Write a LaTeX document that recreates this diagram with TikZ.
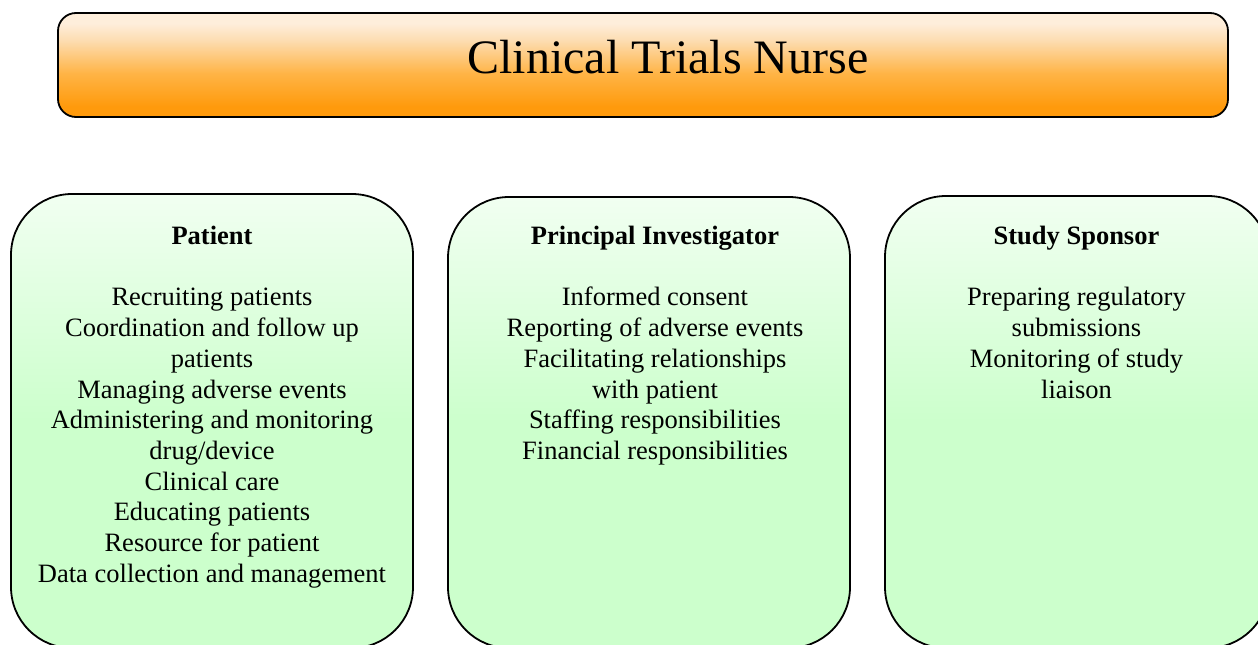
\documentclass[tikz,border=0pt]{standalone}
\usepackage{fontspec}
\setmainfont{Liberation Serif}

\definecolor{orangeLow}{HTML}{FF9A0C}
\definecolor{orangeMid}{HTML}{FFB446}
\definecolor{orangeHigh}{HTML}{FDDDB2}
\definecolor{orangeTop}{HTML}{FEEEDB}
\definecolor{greenLow}{HTML}{CCFFCC}
\definecolor{greenTop}{HTML}{F1FFF1}

% vertical fades (the 25bp..75bp band covers the filled path)
\pgfdeclareverticalshading{titlefade}{100bp}{%
  color(0bp)=(orangeLow); color(30bp)=(orangeLow); color(46bp)=(orangeMid);
  color(62bp)=(orangeHigh); color(70bp)=(orangeTop); color(100bp)=(orangeTop)}
\pgfdeclareverticalshading{greenfade}{100bp}{%
  color(0bp)=(greenLow); color(50bp)=(greenLow); color(75bp)=(greenTop);
  color(100bp)=(greenTop)}

\tikzset{
  titlebox/.style={draw=black, line width=1.8pt, rounded corners=18pt, shading=titlefade},
  rolebox/.style={draw=black, line width=1.8pt, rounded corners=61pt, shading=greenfade},
  roletext/.style={anchor=north, inner sep=0pt, align=center,
    font=\fontsize{26.5}{30.7}\selectfont},
  titletext/.style={anchor=base, inner sep=0pt, font=\fontsize{48}{56}\selectfont}
}

\begin{document}
\begin{tikzpicture}[x=1pt, y=-1pt]
  \useasboundingbox (0,0) rectangle (1258,645);
  \clip (0,0) rectangle (1258,645);
  \fill[white] (0,0) rectangle (1258,645);

  % header bar
  \path[titlebox] (58,13) rectangle (1228,117);
  \node[titletext] (title) at (668,73.3) {Clinical Trials Nurse};

  % three role panels
  \path[rolebox] (11,194) rectangle (413,648);
  \path[rolebox] (448,197) rectangle (850,648);
  \path[rolebox] (885,196) rectangle (1269,648);

  \node[roletext] (patient) at (212,226) {\textbf{Patient}\\[30.7pt]
    Recruiting patients\\
    Coordination and follow up\\
    patients\\
    Managing adverse events\\
    Administering and monitoring\\
    drug/device\\
    Clinical care\\
    Educating patients\\
    Resource for patient\\
    Data collection and management};

  \node[roletext] (investigator) at (655,226) {\textbf{Principal Investigator}\\[30.7pt]
    Informed consent\\
    Reporting of adverse events\\
    Facilitating relationships\\
    with patient\\
    Staffing responsibilities\\
    Financial responsibilities};

  \node[roletext] (sponsor) at (1076.5,226) {\textbf{Study Sponsor}\\[30.7pt]
    Preparing regulatory\\
    submissions\\
    Monitoring of study\\
    liaison};
\end{tikzpicture}
\end{document}
